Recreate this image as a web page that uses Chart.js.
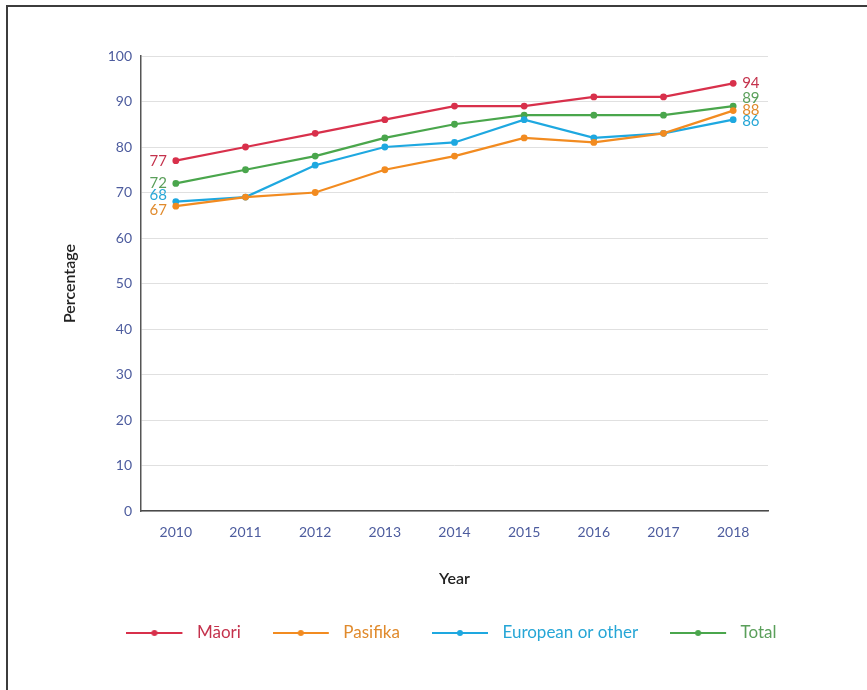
<!DOCTYPE html>
<html><head><meta charset="utf-8">
<script src="https://cdn.jsdelivr.net/npm/chart.js@4"></script>
<style>
html,body{margin:0;padding:0;background:#fff;}
#wrap{position:relative;width:867px;height:690px;overflow:hidden;background:#fff;}
#frame{position:absolute;left:6px;top:5px;right:-10px;bottom:-10px;border-top:2px solid #3c3c3c;border-left:2px solid #3c3c3c;}
canvas{position:absolute;left:0;top:0;}
</style></head><body>
<div id="wrap"><div id="frame"></div><canvas id="c" width="867" height="690"></canvas></div>
<script>
// ---- data ----
const years = ['2010','2011','2012','2013','2014','2015','2016','2017','2018'];
const seriesNames = ['Māori','Pasifika','European or other','Total'];
const maori    = [77,80,83,86,89,89,91,91,94];
const pasifika = [67,69,70,75,78,82,81,83,88];
const european = [68,69,76,80,81,86,82,83,86];
const total    = [72,75,78,82,85,87,87,87,89];
const yTicks = [0,10,20,30,40,50,60,70,80,90,100];

// ---- styles ----
const lineColors  = ['#d8304b','#f28b20','#1ea8e0','#4aa64c'];
const labelColors = ['#c4324c','#e08a2c','#26a6d6','#5a9f5a'];
// vertical nudges (px) for first/last value labels to avoid overlap
const firstNudge = [1, 4, -6, 0];
const lastNudge  = [0, 0, 1, -8];

function legendIcon(color){
  const c = document.createElement('canvas');
  c.width = 62; c.height = 10;
  const x = c.getContext('2d');
  x.strokeStyle = color; x.lineWidth = 2;
  x.beginPath(); x.moveTo(0,5); x.lineTo(56,5); x.stroke();
  x.fillStyle = color; x.beginPath(); x.arc(28,5,3,0,Math.PI*2); x.fill();
  return c;
}

const seriesData = [maori, pasifika, european, total];
const datasets = seriesData.map((d,i)=>({
  label: seriesNames[i],
  data: d,
  borderColor: lineColors[i],
  backgroundColor: lineColors[i],
  borderWidth: 2.2,
  pointRadius: 3.4,
  pointBorderWidth: 0,
  pointBackgroundColor: lineColors[i],
  tension: 0,
  fill: false,
  yAxisID: 'y'
}));

const endLabels = {
  id: 'endLabels',
  afterDatasetsDraw(chart){
    const ctx = chart.ctx;
    ctx.save();
    ctx.font = '15px Lato, "Open Sans", sans-serif';
    ctx.textBaseline = 'middle';
    chart.data.datasets.forEach((ds,i)=>{
      const meta = chart.getDatasetMeta(i);
      const first = meta.data[0], last = meta.data[meta.data.length-1];
      ctx.fillStyle = labelColors[i];
      ctx.textAlign = 'right';
      ctx.fillText(String(ds.data[0]), first.x - 9, first.y + firstNudge[i]);
      ctx.textAlign = 'left';
      ctx.fillText(String(ds.data[ds.data.length-1]), last.x + 9, last.y + lastNudge[i]);
    });
    ctx.restore();
  }
};

const tickColor = '#4d5c9e';
const fontFam = 'Lato, "Open Sans", sans-serif';

new Chart(document.getElementById('c'), {
  type: 'line',
  data: { labels: years, datasets },
  options: {
    responsive: false,
    animation: false,
    layout: { padding: { left: 56, right: 20, top: 56, bottom: 38.5 } },
    plugins: {
      tooltip: { enabled: false },
      legend: {
        position: 'bottom',
        labels: {
          usePointStyle: true,
          pointStyleWidth: 62,
          padding: 32,
          font: { family: fontFam, size: 17 },
          generateLabels(chart){
            return chart.data.datasets.map((ds,i)=>({
              text: ds.label,
              fillStyle: lineColors[i],
              strokeStyle: lineColors[i],
              lineWidth: 0,
              pointStyle: legendIcon(lineColors[i]),
              fontColor: labelColors[i],
              hidden: false,
              datasetIndex: i
            }));
          }
        }
      }
    },
    scales: {
      x: {
        offset: true,
        grid: { display: false, drawTicks: false, offset: true },
        border: { display: true, color: '#4a4a4a', width: 1.5 },
        ticks: { color: tickColor, font: { family: fontFam, size: 14 }, padding: 13 },
        title: { display: true, text: 'Year', color: '#222', font: { family: fontFam, size: 16, weight: '600' }, padding: { top: 0, bottom: 4.5 } },
        afterFit(s){ s.height = 81.5; }
      },
      y: {
        min: 0, max: 100,
        afterBuildTicks(s){ s.ticks = yTicks.map(v=>({value:v})); },
        grid: { color: '#e0e0e0', lineWidth: 1, drawTicks: false },
        border: { display: true, color: '#555', width: 1.5 },
        ticks: { color: tickColor, font: { family: fontFam, size: 14 }, padding: 9 },
        title: { display: true, text: 'Percentage', color: '#222', font: { family: fontFam, size: 16, weight: '600' }, padding: { top: 4, bottom: 4 } },
        afterFit(s){ s.width = 85; }
      },
      y2: {
        position: 'right',
        min: 0, max: 100,
        display: true,
        grid: { display: false, drawTicks: false },
        border: { display: false },
        ticks: { display: false },
        afterFit(s){ s.width = 79; }
      }
    }
  },
  plugins: [endLabels]
});
</script>
</body></html>
